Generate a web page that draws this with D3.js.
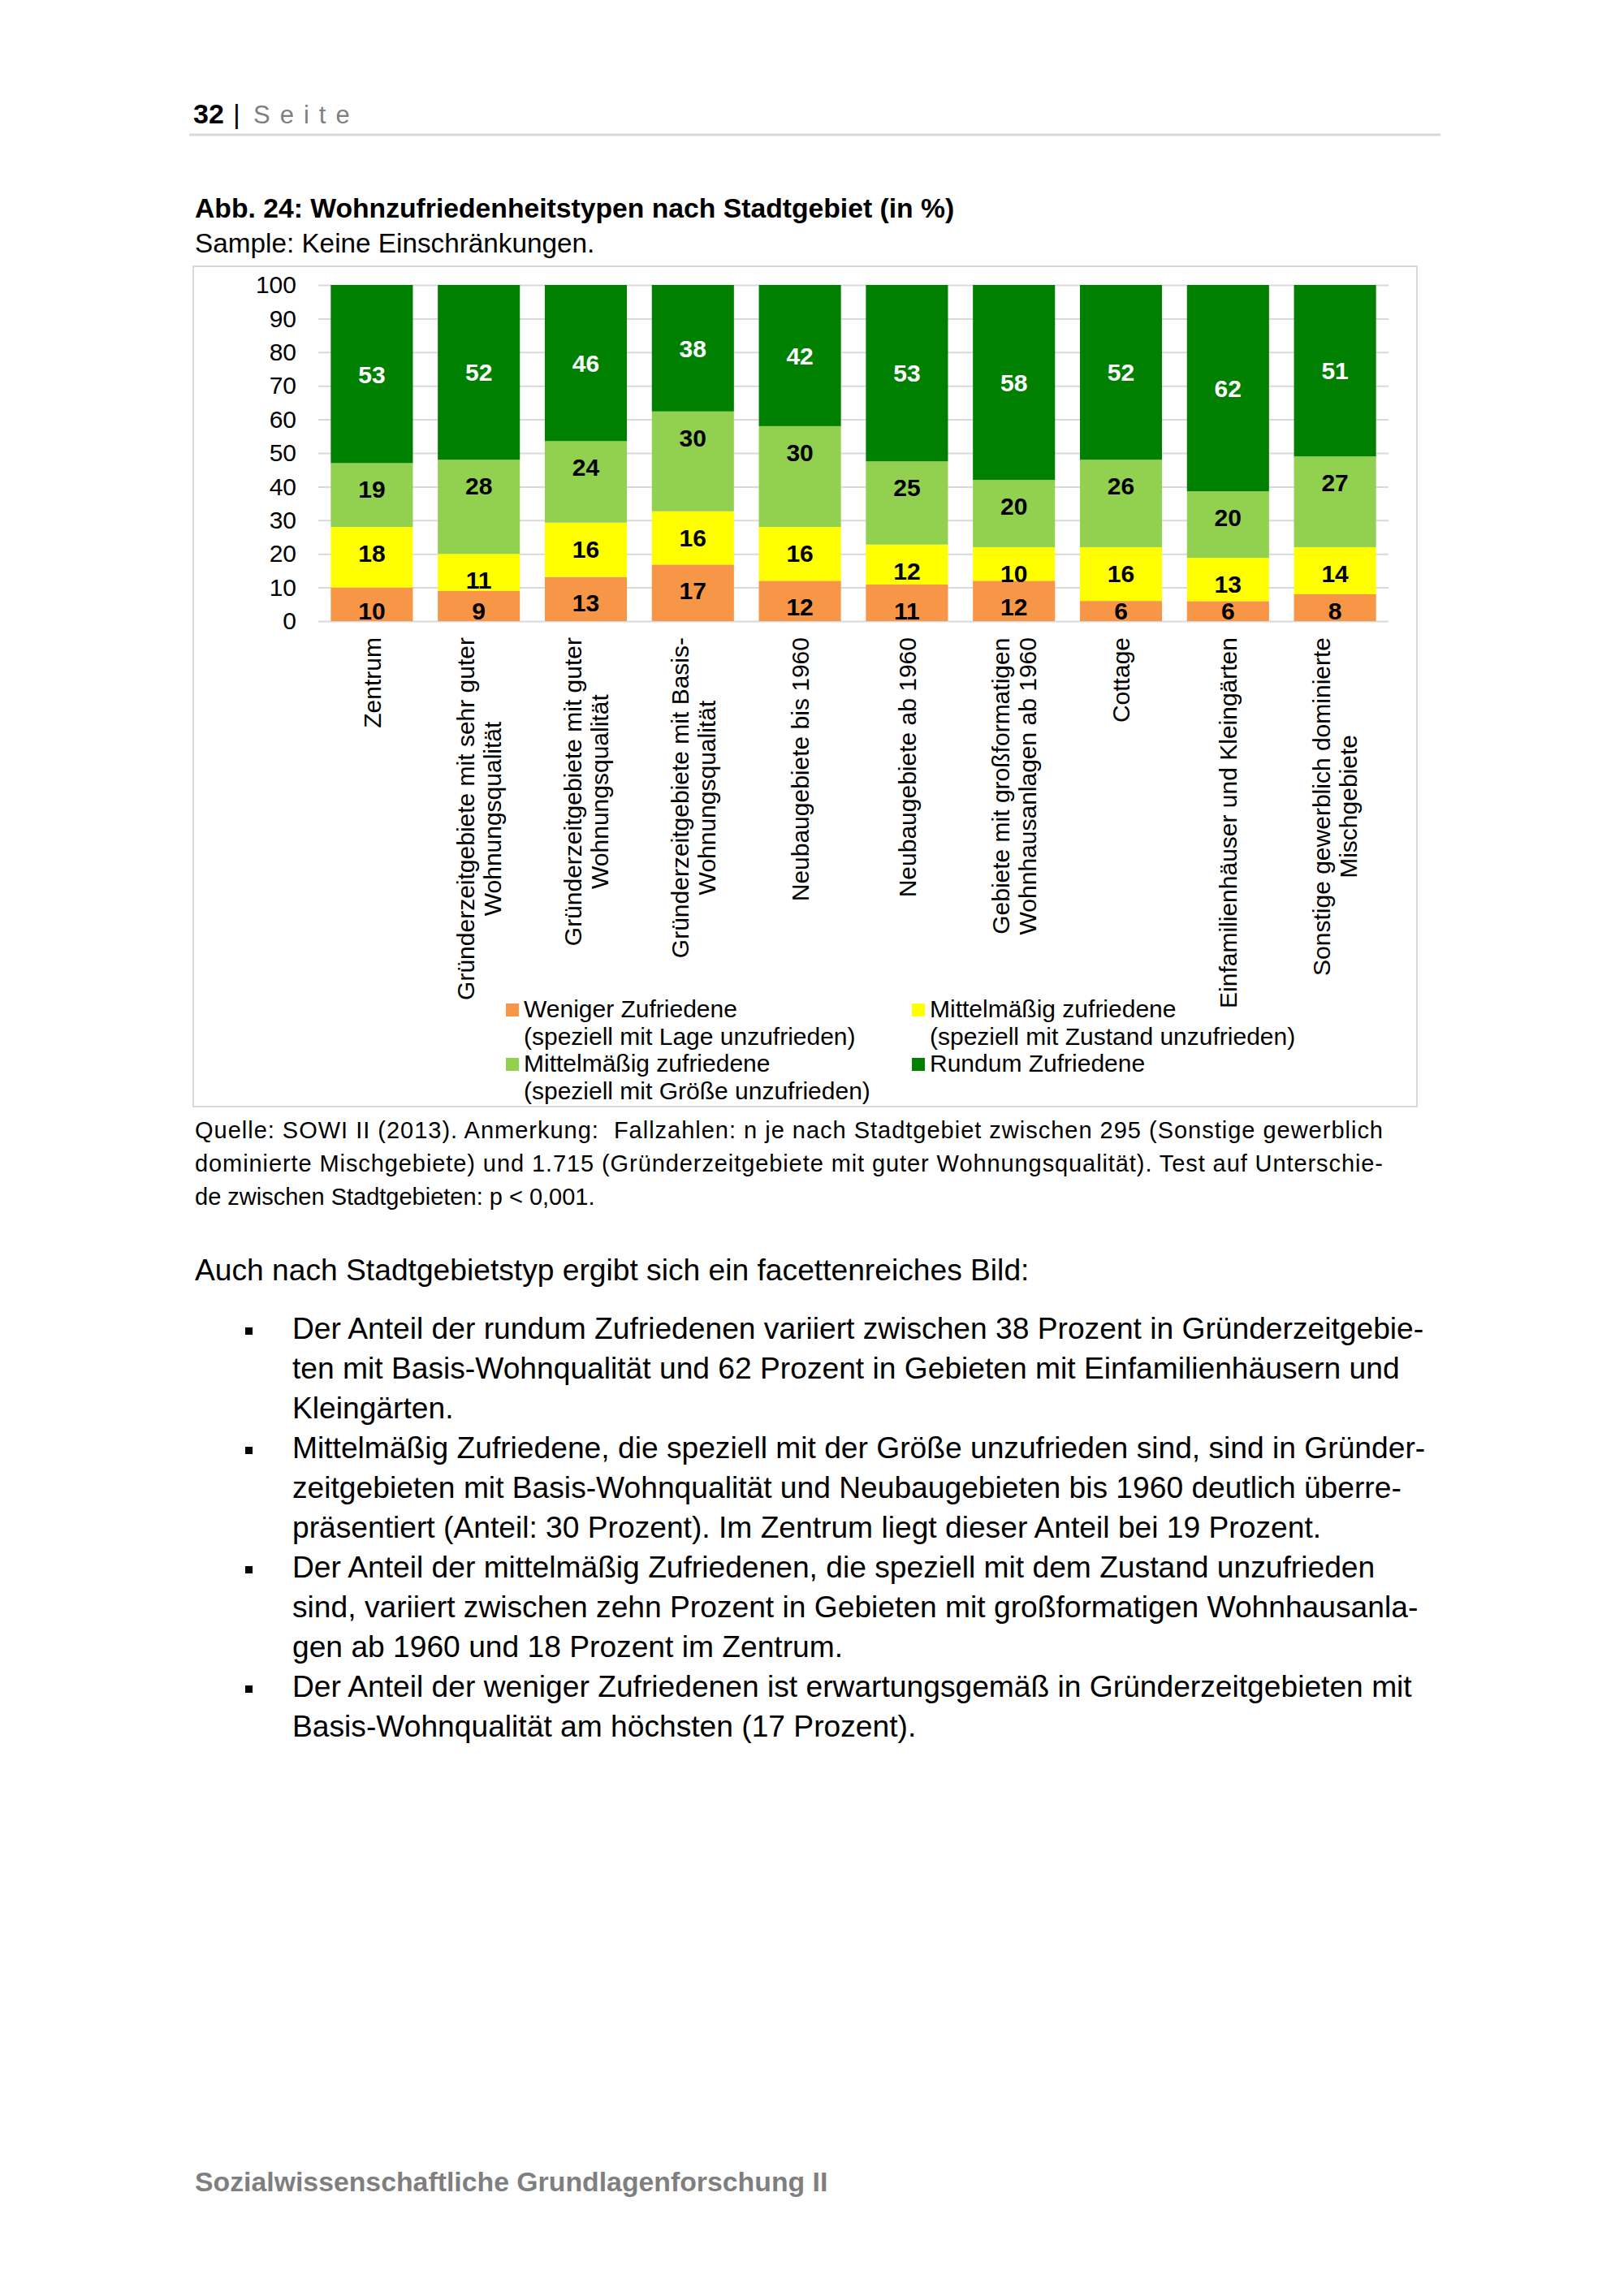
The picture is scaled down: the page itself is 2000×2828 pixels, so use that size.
<!DOCTYPE html>
<html>
<head>
<meta charset="utf-8">
<script src="https://cdn.jsdelivr.net/npm/d3@7"></script>
<style>
  body { margin: 0; background: #fff; }
  text { font-family: "Liberation Sans", Arial, Helvetica, sans-serif; }
</style>
</head>
<body>
<div id="page"></div>
<script>
// Stadtgebiete, split into the lines used under the bars
const categories = [
    ["Zentrum"],
    ["Gründerzeitgebiete mit sehr guter", "Wohnungsqualität"],
    ["Gründerzeitgebiete mit guter", "Wohnungsqualität"],
    ["Gründerzeitgebiete mit Basis-", "Wohnungsqualität"],
    ["Neubaugebiete bis 1960"],
    ["Neubaugebiete ab 1960"],
    ["Gebiete mit großformatigen", "Wohnhausanlagen ab 1960"],
    ["Cottage"],
    ["Einfamilienhäuser und Kleingärten"],
    ["Sonstige gewerblich dominierte", "Mischgebiete"]
];

// Wohnzufriedenheitstypen in % (bottom to top of each bar)
const weniger = [10, 9, 13, 17, 12, 11, 12, 6, 6, 8];
const zustand = [18, 11, 16, 16, 16, 12, 10, 16, 13, 14];
const groesse = [19, 28, 24, 30, 30, 25, 20, 26, 20, 27];
const rundum  = [53, 52, 46, 38, 42, 53, 58, 52, 62, 51];

const seriesKeys = ["weniger", "zustand", "groesse", "rundum"];
const seriesNames = [
    ["Weniger Zufriedene", "(speziell mit Lage unzufrieden)"],
    ["Mittelmäßig zufriedene", "(speziell mit Zustand unzufrieden)"],
    ["Mittelmäßig zufriedene", "(speziell mit Größe unzufrieden)"],
    ["Rundum Zufriedene"]
];
const seriesColors = ["#F79646", "#FFFF00", "#92D050", "#008000"];
const yTicks = [0, 10, 20, 30, 40, 50, 60, 70, 80, 90, 100];

const quelleLines = [
    "Quelle: SOWI II (2013). Anmerkung:  Fallzahlen: n je nach Stadtgebiet zwischen 295 (Sonstige gewerblich",
    "dominierte Mischgebiete) und 1.715 (Gründerzeitgebiete mit guter Wohnungsqualität). Test auf Unterschie-",
    "de zwischen Stadtgebieten: p < 0,001."
];
const introLine = "Auch nach Stadtgebietstyp ergibt sich ein facettenreiches Bild:";
const bulletLines = [
    "Der Anteil der rundum Zufriedenen variiert zwischen 38 Prozent in Gründerzeitgebie-",
    "ten mit Basis-Wohnqualität und 62 Prozent in Gebieten mit Einfamilienhäusern und",
    "Kleingärten.",
    "Mittelmäßig Zufriedene, die speziell mit der Größe unzufrieden sind, sind in Gründer-",
    "zeitgebieten mit Basis-Wohnqualität und Neubaugebieten bis 1960 deutlich überre-",
    "präsentiert (Anteil: 30 Prozent). Im Zentrum liegt dieser Anteil bei 19 Prozent.",
    "Der Anteil der mittelmäßig Zufriedenen, die speziell mit dem Zustand unzufrieden",
    "sind, variiert zwischen zehn Prozent in Gebieten mit großformatigen Wohnhausanla-",
    "gen ab 1960 und 18 Prozent im Zentrum.",
    "Der Anteil der weniger Zufriedenen ist erwartungsgemäß in Gründerzeitgebieten mit",
    "Basis-Wohnqualität am höchsten (17 Prozent)."
];
const bulletStarts = [0, 3, 6, 9];

// build rows for d3.stack
const rows = categories.map((c, i) => ({
    name: c.join(" "),
    weniger: weniger[i], zustand: zustand[i], groesse: groesse[i], rundum: rundum[i]
}));

const svg = d3.select("#page").append("svg")
    .attr("width", 2000)
    .attr("height", 2828);

svg.append("rect").attr("width", 2000).attr("height", 2828).attr("fill", "#fff");

// page header
svg.append("text").attr("x", 238).attr("y", 152)
    .attr("font-size", 34).attr("font-weight", "bold").attr("fill", "#000").text("32");
svg.append("text").attr("x", 287).attr("y", 152)
    .attr("font-size", 34).attr("fill", "#000").text("|");
svg.append("text").attr("x", 312).attr("y", 152)
    .attr("font-size", 31).attr("fill", "#7f7f7f").attr("letter-spacing", 12).text("Seite");
svg.append("line").attr("x1", 233).attr("x2", 1774).attr("y1", 166).attr("y2", 166)
    .attr("stroke", "#d9d9d9").attr("stroke-width", 3);

// title
svg.append("text").attr("x", 240).attr("y", 268)
    .attr("font-size", 33.7).attr("font-weight", "bold").attr("fill", "#000")
    .text("Abb. 24: Wohnzufriedenheitstypen nach Stadtgebiet (in %)");
svg.append("text").attr("x", 240).attr("y", 311)
    .attr("font-size", 33.3).attr("fill", "#000")
    .text("Sample: Keine Einschränkungen.");

// chart frame
svg.append("rect").attr("x", 238).attr("y", 328).attr("width", 1507).attr("height", 1035)
    .attr("fill", "#fff").attr("stroke", "#d9d9d9").attr("stroke-width", 2);

// scales
const x = d3.scaleBand()
    .domain(rows.map(d => d.name))
    .range([392, 1710])
    .paddingInner(0.233)
    .paddingOuter(0.1165);

const y = d3.scaleLinear()
    .domain([0, 100])
    .range([765, 351]);

// gridlines + y labels
const yAxis = svg.append("g")
    .attr("transform", "translate(392,0)")
    .call(d3.axisLeft(y).tickValues(yTicks).tickSize(-1318).tickPadding(27).tickFormat(d3.format("d")));
yAxis.select(".domain").remove();
yAxis.selectAll(".tick line").attr("stroke", "#d9d9d9").attr("stroke-width", 2);
yAxis.selectAll(".tick text")
    .attr("font-family", "Liberation Sans, Arial, sans-serif")
    .attr("font-size", 30).attr("fill", "#000");

// stacked bars (shares, Excel 100% stacked)
const stack = d3.stack().keys(seriesKeys).offset(d3.stackOffsetExpand);
const series = stack(rows);

const layers = svg.append("g").selectAll("g")
    .data(series)
    .enter().append("g")
    .attr("fill", (d, i) => seriesColors[i]);

layers.selectAll("rect")
    .data(d => d)
    .enter().append("rect")
    .attr("x", d => x(d.data.name))
    .attr("y", d => y(d[1] * 100))
    .attr("width", x.bandwidth())
    .attr("height", d => y(d[0] * 100) - y(d[1] * 100));

// data labels: top layer centred, others near the top of their segment
const fs = 30;
series.forEach((s, si) => {
    s.forEach(d => {
        const top = y(d[1] * 100), bottom = y(d[0] * 100);
        let cy = si === 3 ? (top + bottom) / 2 : Math.min(top + 32, y(0) - 13);
        svg.append("text")
            .attr("x", x(d.data.name) + x.bandwidth() / 2)
            .attr("y", cy + fs * 0.36)
            .attr("text-anchor", "middle")
            .attr("font-size", fs)
            .attr("font-weight", "bold")
            .attr("fill", si === 3 ? "#fff" : "#000")
            .text(d.data[s.key]);
    });
});

// x labels, rotated, top-aligned below the axis
const xLab = svg.append("g");
rows.forEach((r, i) => {
    const lines = categories[i];
    const g = xLab.append("g")
        .attr("transform", `translate(${x(r.name) + x.bandwidth() / 2},785) rotate(-90)`);
    const texts = lines.map((ln, li) => g.append("text")
        .attr("font-size", 30)
        .attr("fill", "#000")
        .attr("text-anchor", "middle")
        .attr("y", (li - (lines.length - 1) / 2) * 33 + 30 * 0.36)
        .text(ln));
    const L = d3.max(texts, t => t.node().getComputedTextLength());
    texts.forEach(t => t.attr("x", -L / 2));
});

// legend
seriesNames.forEach((nm, i) => {
    const col = i % 2, row = Math.floor(i / 2);
    const lx = 623 + col * 500, ly = 1253 + row * 67;
    svg.append("rect").attr("x", lx).attr("y", ly - 17).attr("width", 16).attr("height", 16)
        .attr("fill", seriesColors[i]);
    nm.forEach((t, ti) => {
        svg.append("text").attr("x", lx + 22).attr("y", ly + ti * 34)
            .attr("font-size", 30).attr("fill", "#000").text(t);
    });
});

// source note
quelleLines.forEach((t, i) => {
    const tx = svg.append("text").attr("x", 240).attr("y", 1402 + i * 41)
        .attr("font-size", 29).attr("fill", "#000")
        .style("white-space", "pre")
        .text(t);
    if (i < 2) tx.attr("textLength", 1463).attr("lengthAdjust", "spacing");
});

// body text
svg.append("text").attr("x", 240).attr("y", 1577)
    .attr("font-size", 37.2).attr("fill", "#000").text(introLine);

bulletLines.forEach((t, i) => {
    const by = 1649 + i * 49;
    if (bulletStarts.includes(i)) {
        svg.append("rect").attr("x", 302).attr("y", by - 14).attr("width", 9).attr("height", 9).attr("fill", "#000");
    }
    svg.append("text").attr("x", 360).attr("y", by)
        .attr("font-size", 37.2).attr("fill", "#000").text(t);
});

// footer
svg.append("text").attr("x", 240).attr("y", 2699)
    .attr("font-size", 33.8).attr("font-weight", "bold").attr("fill", "#7f7f7f")
    .text("Sozialwissenschaftliche Grundlagenforschung II");
</script>
</body>
</html>
